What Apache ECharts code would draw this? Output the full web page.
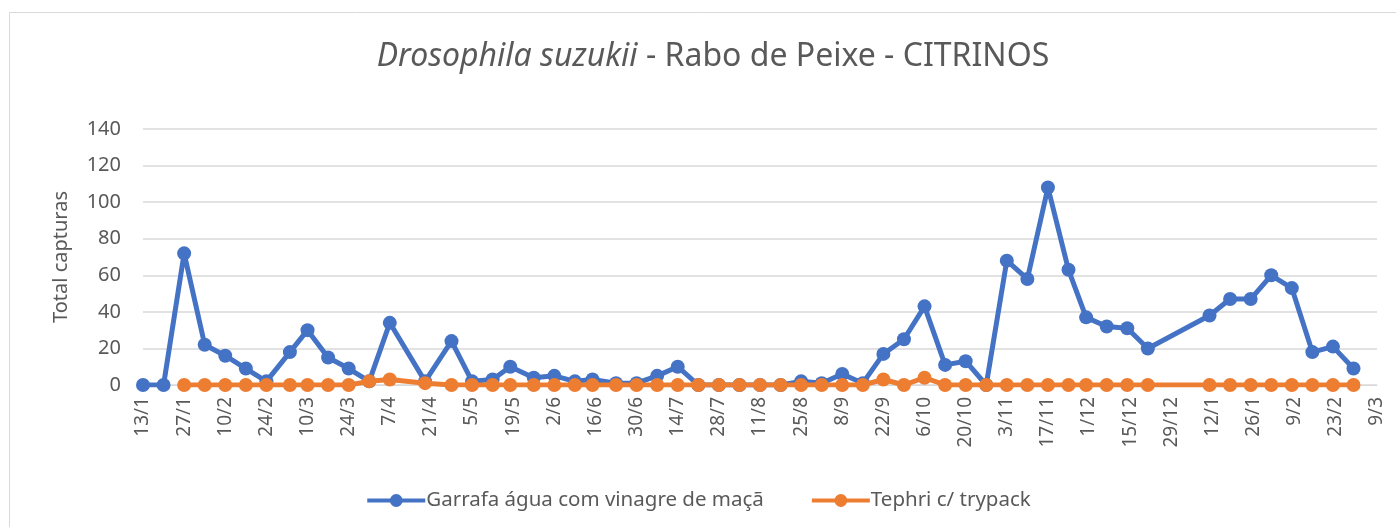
<!DOCTYPE html>
<html>
<head>
<meta charset="utf-8">
<script src="https://cdn.jsdelivr.net/npm/echarts@6/dist/echarts.min.js"></script>
<style>html,body{margin:0;padding:0;background:#fff;}#c{width:1396px;height:527px;}</style>
</head>
<body>
<div id="c"></div>
<script>
const startDate = '2021-01-13';
const endDate = '2022-03-09';
const blueDates = ['2021-01-13','2021-01-20','2021-01-27','2021-02-03','2021-02-10','2021-02-17','2021-02-24','2021-03-04','2021-03-10','2021-03-17','2021-03-24','2021-03-31','2021-04-07','2021-04-19','2021-04-28','2021-05-05','2021-05-12','2021-05-18','2021-05-26','2021-06-02','2021-06-09','2021-06-15','2021-06-23','2021-06-30','2021-07-07','2021-07-14','2021-07-21','2021-07-28','2021-08-04','2021-08-11','2021-08-18','2021-08-25','2021-09-01','2021-09-08','2021-09-15','2021-09-22','2021-09-29','2021-10-06','2021-10-13','2021-10-20','2021-10-27','2021-11-03','2021-11-10','2021-11-17','2021-11-24','2021-11-30','2021-12-07','2021-12-14','2021-12-21','2022-01-11','2022-01-18','2022-01-25','2022-02-01','2022-02-08','2022-02-15','2022-02-22','2022-03-01'];
const blueValues = [0,0,72,22,16,9,2,18,30,15,9,2,34,2,24,2,3,10,4,5,2,3,1,1,5,10,0,0,0,0,0,2,1,6,1,17,25,43,11,13,0,68,58,108,63,37,32,31,20,38,47,47,60,53,18,21,9];
const orangeDates = blueDates.slice(2);
const orangeValues = [0,0,0,0,0,0,0,0,0,2,3,1,0,0,0,0,0,0,0,0,0,0,0,0,0,0,0,0,0,0,0,0,0,3,0,4,0,0,0,0,0,0,0,0,0,0,0,0,0,0,0,0,0,0,0];
const seriesNames = ['Garrafa água com vinagre de maçã', 'Tephri c/ trypack'];
const yTicks = [0, 20, 40, 60, 80, 100, 120, 140];

const DAY = 86400000;
const t0 = Date.parse(startDate + 'T00:00:00Z');
const dayOf = s => Math.round((Date.parse(s + 'T00:00:00Z') - t0) / DAY);
const totalDays = dayOf(endDate);
const fmt = v => { const d = new Date(t0 + v * DAY); return d.getUTCDate() + '/' + (d.getUTCMonth() + 1); };

const chart = echarts.init(document.getElementById('c'));
const FONT = 'Noto Sans';
chart.setOption({
  animation: false,
  backgroundColor: '#fff',
  graphic: [{type: 'rect', shape: {x: 9.5, y: 12.5, width: 1500, height: 700}, style: {fill: 'none', stroke: '#d9d9d9', lineWidth: 1}, z: -10}],
  title: {
    text: '{i|Drosophila suzukii}{r| - Rabo de Peixe - CITRINOS}',
    left: 708, top: 36, textAlign: 'center',
    textStyle: {fontWeight: 'normal', rich: {
      i: {fontFamily: FONT, fontSize: 32, fontStyle: 'italic', fontWeight: 'normal', color: '#595959'},
      r: {fontFamily: FONT, fontSize: 32, fontWeight: 'normal', color: '#595959'}
    }}
  },
  legend: {
    top: 485, left: 'center', itemWidth: 58, itemHeight: 16, itemGap: 46,
    lineStyle: {width: 4},
    textStyle: {fontFamily: FONT, fontSize: 20.5, color: '#595959', padding: [0,0,0,-4]},
    data: seriesNames
  },
  grid: {left: 143, right: 19, top: 129, bottom: 142, containLabel: false},
  xAxis: {
    type: 'value', min: 0, max: totalDays, interval: 14,
    axisLine: {show: true, lineStyle: {color: '#d9d9d9', width: 1}},
    axisTick: {show: false},
    splitLine: {show: false},
    axisLabel: {rotate: 90, formatter: fmt, fontFamily: FONT, fontSize: 19, color: '#595959', margin: 12}
  },
  yAxis: {
    type: 'value', min: yTicks[0], max: yTicks[yTicks.length - 1], interval: yTicks[1] - yTicks[0],
    name: 'Total capturas', nameLocation: 'middle', nameGap: 72, nameRotate: 90,
    nameTextStyle: {fontFamily: FONT, fontSize: 20, color: '#595959'},
    axisLine: {show: false}, axisTick: {show: false},
    splitLine: {lineStyle: {color: '#d9d9d9', width: 1.5}},
    axisLabel: {fontFamily: FONT, fontSize: 20, color: '#595959', margin: 22}
  },
  series: [
    {
      name: seriesNames[0], type: 'line', symbol: 'circle', symbolSize: 14,
      data: blueDates.map((d, i) => [dayOf(d), blueValues[i]]),
      lineStyle: {color: '#4472C4', width: 5}, itemStyle: {color: '#4472C4'}, z: 2
    },
    {
      name: seriesNames[1], type: 'line', symbol: 'circle', symbolSize: 14,
      data: orangeDates.map((d, i) => [dayOf(d), orangeValues[i]]),
      lineStyle: {color: '#ED7D31', width: 5}, itemStyle: {color: '#ED7D31'}, z: 3
    }
  ]
});
</script>
</body>
</html>
